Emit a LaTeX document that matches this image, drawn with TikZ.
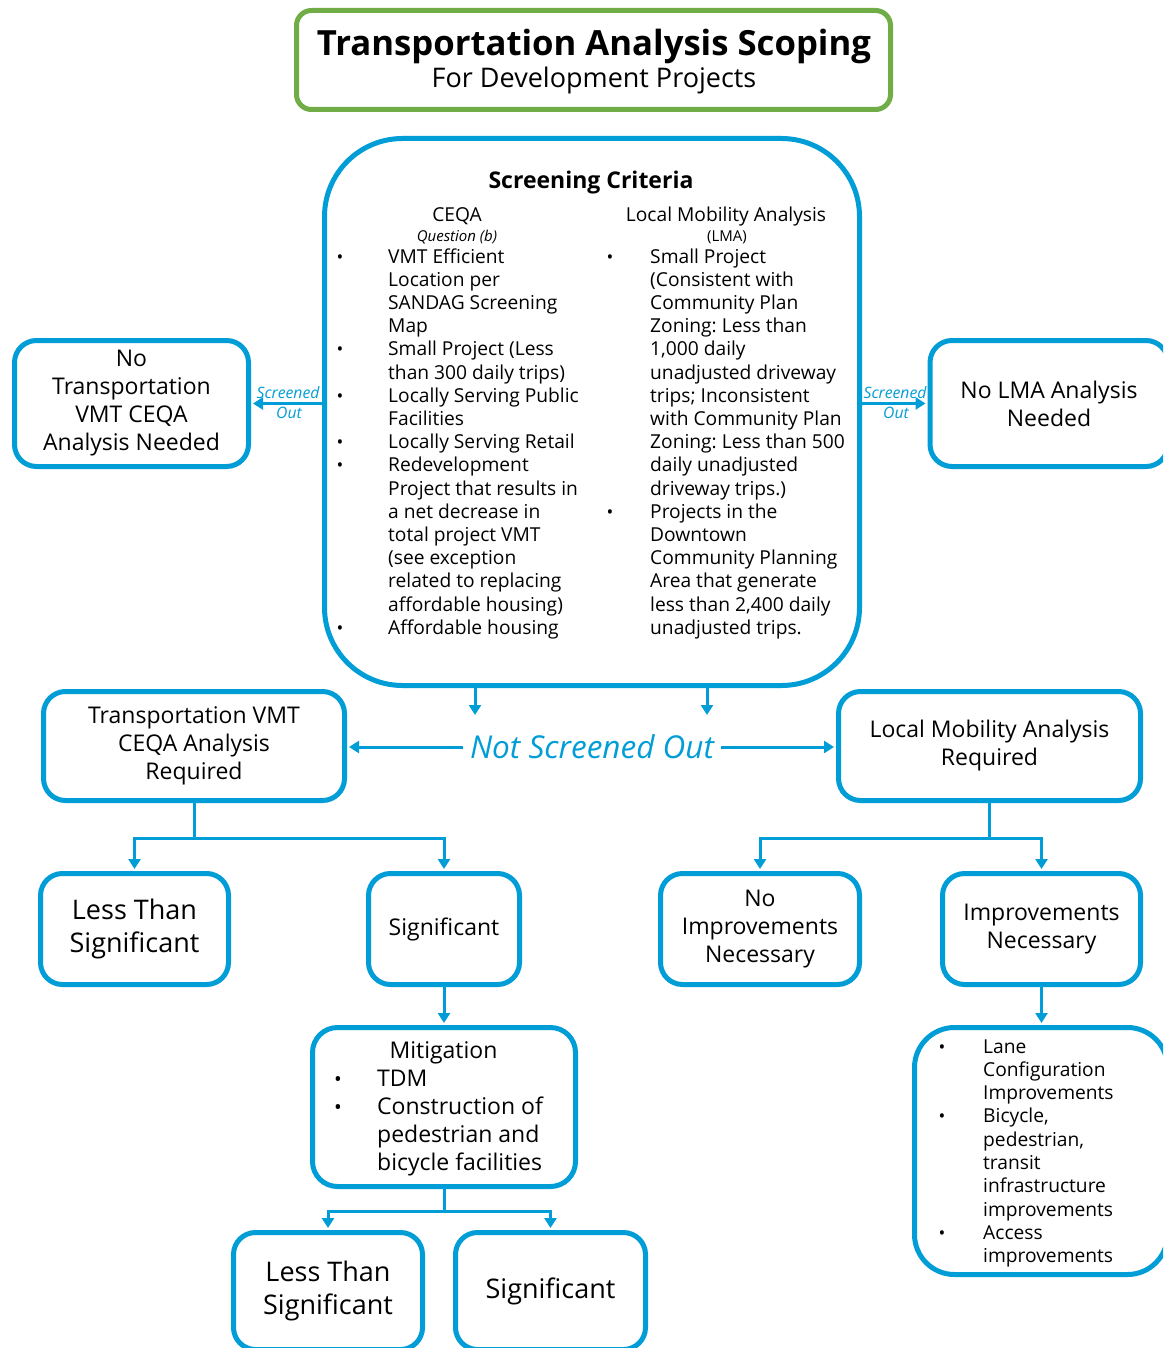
\documentclass[tikz,border=0pt]{standalone}
\usepackage{fontspec}
\setmainfont{Open Sans}
\frenchspacing
\usetikzlibrary{arrows.meta}
\definecolor{cblue}{RGB}{0,157,214}
\definecolor{cgreen}{RGB}{112,173,71}
\begin{document}
\begin{tikzpicture}[x=1pt,y=-1pt,
  box/.style={draw=cblue, line width=5pt, rounded corners=22pt, align=center, inner sep=0pt,
    font=\fontsize{23}{28}\selectfont},
  bigtxt/.style={font=\fontsize{27}{33}\selectfont},
  conn/.style={draw=cblue, line width=3pt, shorten >=2pt, -{Triangle[length=10pt,width=12pt]}},
  item/.style={inner sep=0pt, anchor=base west, font=\fontsize{19.2}{23}\selectfont},
  bul/.style={inner sep=0pt, anchor=base, font=\fontsize{18}{23}\selectfont},
  mitem/.style={inner sep=0pt, anchor=base west, font=\fontsize{23}{28}\selectfont},
  mbul/.style={inner sep=0pt, anchor=base, font=\fontsize{20.5}{28}\selectfont},
  sotxt/.style={inner sep=0pt, anchor=base, text=cblue, font=\fontsize{15.7}{17}\selectfont\itshape}]
\clip (0,0) rectangle (1163,1348);
\fill[white] (0,0) rectangle (1163,1348);

% title
\node[draw=cgreen, line width=5pt, rounded corners=15pt, minimum width=594pt, minimum height=99pt] (title) at (593.5,60) {};
\node[anchor=base, inner sep=0pt, font=\fontsize{34.7}{40}\selectfont\bfseries] (t1) at (594,56) {Transportation Analysis Scoping};
\node[anchor=base, inner sep=0pt, font=\fontsize{27}{30}\selectfont] (t2) at (594,88) {For Development Projects};

% screening box
\node[box, rounded corners=78pt, minimum width=535pt, minimum height=547pt] (screen) at (592,412) {};
\node[anchor=base, inner sep=0pt, font=\fontsize{23}{26}\selectfont\bfseries] (sc) at (591,189) {Screening Criteria};
\node[anchor=base, inner sep=0pt, font=\fontsize{19.2}{23}\selectfont] (ceqa) at (457,222) {CEQA};
\node[anchor=base, inner sep=0pt, font=\fontsize{15}{17}\selectfont\itshape] (qb) at (457,241) {Question (b)};
\node[anchor=base, inner sep=0pt, font=\fontsize{19.2}{23}\selectfont] (lma) at (726,222) {Local Mobility Analysis};
\node[anchor=base, inner sep=0pt, font=\fontsize{15}{17}\selectfont] (lmab) at (727,241) {(LMA)};

\foreach \t [count=\i] in {{VMT Efficient},{Location per},{SANDAG Screening},{Map},{Small Project (Less},{than 300 daily trips)},{Locally Serving Public},{Facilities},{Locally Serving Retail},{Redevelopment},{Project that results in},{a net decrease in},{total project VMT},{(see exception},{related to replacing},{affordable housing)},{Affordable housing}}
  \node[item] (cl\i) at (388,{263+23.2*(\i-1)}) {\t};
\foreach \i in {1,5,7,9,10,17}
  \node[bul] (cb\i) at (340,{263+23.2*(\i-1)}) {\textbullet};

\foreach \t [count=\i] in {{Small Project},{(Consistent with},{Community Plan},{Zoning: Less than},{1,000 daily},{unadjusted driveway},{trips; Inconsistent},{with Community Plan},{Zoning: Less than 500},{daily unadjusted},{driveway trips.)},{Projects in the},{Downtown},{Community Planning},{Area that generate},{less than 2,400 daily},{unadjusted trips.}}
  \node[item] (rl\i) at (650,{263+23.2*(\i-1)}) {\t};
\foreach \i in {1,12}
  \node[bul] (rb\i) at (610,{263+23.2*(\i-1)}) {\textbullet};

% side boxes
\node[box, minimum width=234pt, minimum height=126pt] (noT) at (131.5,403.5) {No\\Transportation\\VMT CEQA\\Analysis Needed};
\node[box, minimum width=238pt, minimum height=126pt] (noL) at (1049,403.5) {No LMA Analysis\\Needed};

\draw[conn] (screen.west |- noT.east) -- (noT.east);
\draw[conn] (screen.east |- noL.west) -- (noL.west);
\node[sotxt] (so1) at (288,398) {Screened};
\node[sotxt] (so2) at (289,418) {Out};
\node[sotxt] (so3) at (895,398) {Screened};
\node[sotxt] (so4) at (896,418) {Out};

% not screened out
\coordinate (d1) at (475,717);
\coordinate (d2) at (707,717);
\draw[conn] (screen.south -| d1) -- (d1);
\draw[conn] (screen.south -| d2) -- (d2);

\node[box, minimum width=301pt, minimum height=109pt] (vmtReq) at (194,746) {Transportation VMT\\CEQA Analysis\\Required};
\node[box, minimum width=302pt, minimum height=109pt] (lmaReq) at (989.5,746) {Local Mobility Analysis\\Required};

\node[inner xsep=7pt, inner ysep=0pt, text=cblue, font=\fontsize{31.5}{36}\selectfont\itshape] (nso) at (592,747) {Not Screened Out};
\draw[conn] (nso.west) -- (nso.west -| vmtReq.east);
\draw[conn] (nso.east) -- (nso.east -| lmaReq.west);

% second row
\node[box, bigtxt, minimum width=188pt, minimum height=111pt] (lts1) at (134.5,929) {Less Than\\Significant};
\node[box, minimum width=151pt, minimum height=111pt] (sig1) at (444,929) {Significant};
\node[box, minimum width=199pt, minimum height=111pt] (noImp) at (760,929) {No\\Improvements\\Necessary};
\node[box, minimum width=198pt, minimum height=111pt] (imp) at (1041.5,929) {Improvements\\Necessary};

\draw[conn] (vmtReq.south) -- ++(0,35) -| (lts1.north);
\draw[conn] (vmtReq.south) -- ++(0,35) -| (sig1.north);
\draw[conn] (lmaReq.south) -- ++(0,35) -| (noImp.north);
\draw[conn] (lmaReq.south) -- ++(0,35) -| (imp.north);

% mitigation
\node[box, rounded corners=25pt, minimum width=263pt, minimum height=159pt] (mitig) at (444,1107) {};
\node[anchor=base, inner sep=0pt, font=\fontsize{23}{28}\selectfont] (mt) at (443.5,1058) {Mitigation};
\foreach \t [count=\i] in {{TDM},{Construction of},{pedestrian and},{bicycle facilities}}
  \node[mitem] (ml\i) at (377,{1086+28*(\i-1)}) {\t};
\foreach \i in {1,2}
  \node[mbul] (mb\i) at (338,{1086+28*(\i-1)}) {\textbullet};
\draw[conn] (sig1.south) -- (mitig.north);

% lane box
\node[box, rounded corners=40pt, minimum width=253pt, minimum height=247pt] (lane) at (1041,1151) {};
\foreach \t [count=\i] in {{Lane},{Configuration},{Improvements},{Bicycle,},{pedestrian,},{transit},{infrastructure},{improvements},{Access},{improvements}}
  \node[item] (ll\i) at (983,{1053+23.3*(\i-1)}) {\t};
\foreach \i in {1,4,9}
  \node[bul] (lb\i) at (942,{1053+23.3*(\i-1)}) {\textbullet};
\draw[conn] (imp.south) -- (imp.south |- lane.north);

% bottom row
\node[box, bigtxt, minimum width=189pt, minimum height=117pt] (lts2) at (328,1291) {Less Than\\Significant};
\node[box, bigtxt, minimum width=190pt, minimum height=117pt] (sig2) at (550.5,1291) {Significant};
\draw[conn] (mitig.south) -- ++(0,22) -| (lts2.north);
\draw[conn] (mitig.south) -- ++(0,22) -| (sig2.north);
\end{tikzpicture}
\end{document}
